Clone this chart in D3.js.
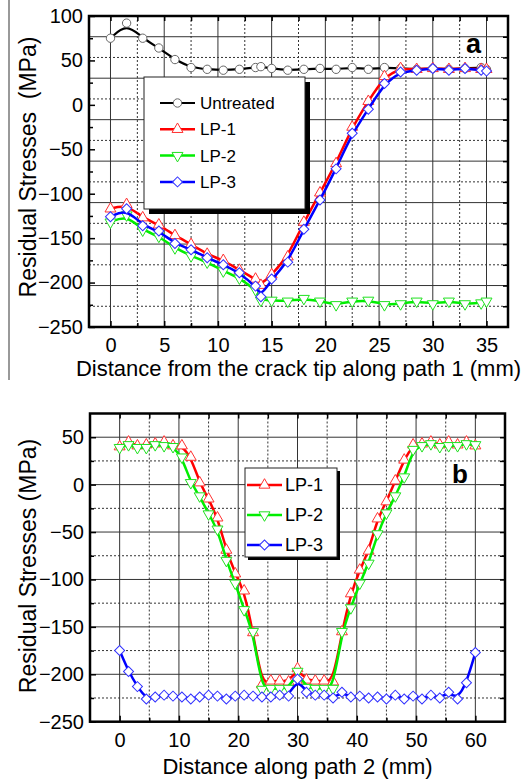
<!DOCTYPE html>
<html>
<head>
<meta charset="utf-8">
<script src="https://cdn.jsdelivr.net/npm/d3@7/dist/d3.min.js"></script>
<style>
  body { margin: 0; background: #fff; }
  svg text { font-family: "Liberation Sans", Arial, sans-serif; fill: #000; }
</style>
</head>
<body>
<svg id="chart" width="532" height="784"></svg>
<script>
// ---- Panel a: path 1 ----
const xA = [0, 1.5, 3, 4.5, 6, 7.5, 9, 10.5, 12, 13.5, 14, 15, 16.5, 18, 19.5, 21, 22.5, 24, 25.5, 27, 28.5, 30, 31.5, 33, 34.5, 35];
const untreatedA = [75, 92, 75, 64, 51, 42, 40, 39, 40, 42, 43, 41, 39, 40, 41, 40, 42, 40, 42, 41, 40, 41, 40, 41, 42, 40];
const lp1A = [-117, -112, -127, -135, -147, -157, -168, -175, -186, -196, -203, -191, -171, -132, -99, -66, -25, 4, 32, 41, 40, 41, 40, 41, 40, 40];
const lp2A = [-132, -124, -141, -148, -161, -170, -177, -187, -195, -208, -220, -220, -221, -218, -221, -225, -221, -220, -225, -224, -221, -224, -221, -224, -223, -221];
const lp3A = [-126, -117, -136, -142, -156, -163, -172, -180, -189, -204, -216, -196, -177, -140, -107, -72, -32, -5, 24, 37, 39, 41, 39, 41, 39, 38];
const xTicksA = [0, 5, 10, 15, 20, 25, 30, 35];
const xMinorA = [2.5, 7.5, 12.5, 17.5, 22.5, 27.5, 32.5];
const yTicksA = [100, 50, 0, -50, -100, -150, -200, -250];
const yMinorA = [75, 25, -25, -75, -125, -175, -225];
// the grid of panel a runs on its own 25-step scale (-250..125)
const yGridA = [-225, -200, -175, -150, -125, -100, -75, -50, -25, 0, 25, 50, 75, 100];

// ---- Panel b: path 2 ----
const xB = [0, 1.5, 3, 4.5, 6, 7.5, 9, 10.5, 12, 13.5, 15, 16.5, 18, 19.5, 21, 22.5, 24, 25.5, 27, 28.5, 30, 31.5, 33, 34.5, 36, 37.5, 39, 40.5, 42, 43.5, 45, 46.5, 48, 49.5, 51, 52.5, 54, 55.5, 57, 58.5, 60];
const lp1B = [40, 45, 41, 42, 43, 45, 41, 41, 29, 2, -15, -35, -69, -94, -112, -156, -211, -207, -207, -208, -194, -206, -207, -207, -208, -155, -115, -90, -70, -36, -18, 4, 26, 42, 43, 45, 42, 45, 42, 45, 41];
const lp2B = [39, 42, 39, 39, 42, 41, 40, 29, 2, -12, -31, -47, -80, -104, -132, -155, -216, -215, -215, -215, -197, -214, -215, -215, -215, -155, -130, -104, -83, -52, -30, -12, 8, 37, 41, 43, 40, 41, 41, 43, 42];
const lp3B = [-175, -197, -213, -226, -224, -222, -223, -224, -226, -224, -222, -223, -226, -223, -222, -223, -224, -224, -222, -223, -205, -219, -222, -222, -225, -219, -224, -223, -225, -224, -226, -222, -226, -223, -226, -222, -225, -219, -226, -209, -177];
const xTicksB = [0, 10, 20, 30, 40, 50, 60];
const xMinorB = [5, 15, 25, 35, 45, 55];
const yTicksB = [50, 0, -50, -100, -150, -200, -250];
const yMinorB = [25, -25, -75, -125, -175, -225];
const yGridB = [-225, -200, -175, -150, -125, -100, -75, -50, -25, 0, 25, 50];

const svg = d3.select("#chart");

const styles = {
  untreated: {name: "Untreated", color: "#000", mark: "#666", shape: "circle", width: 2.2},
  lp1: {name: "LP-1", color: "#ff0000", mark: "#ff3030", shape: "up", width: 2.5},
  lp2: {name: "LP-2", color: "#00ee00", mark: "#20e020", shape: "down", width: 2.5},
  lp3: {name: "LP-3", color: "#0000ff", mark: "#3030ff", shape: "diamond", width: 2.5}
};

function markerPath(shape) {
  if (shape === "circle") return d3.symbol(d3.symbolCircle, 55)();
  if (shape === "diamond") return d3.symbol(d3.symbolSquare, 50)();
  return d3.symbol(d3.symbolTriangle, 52)();
}
function markerRot(shape) {
  if (shape === "down") return 180;
  if (shape === "diamond") return 45;
  return 0;
}

function drawPanel(p) {
  const g = svg.append("g");
  const x = d3.scaleLinear().domain(p.xDomain).range([p.left, p.right]);
  const y = d3.scaleLinear().domain(p.yDomain).range([p.bottom, p.top]);
  const yg = d3.scaleLinear().domain(p.gridDomain).range([p.bottom, p.top]);

  // Grid lines
  g.selectAll(".vgrid")
    .data(p.xGrid)
    .enter()
    .append("line")
    .attr("x1", d => x(d)).attr("x2", d => x(d))
    .attr("y1", p.top).attr("y2", p.bottom)
    .attr("stroke", "#333")
    .attr("stroke-width", 1)
    .attr("stroke-dasharray", d => d % p.xMajor === 0 ? null : "2,2");
  g.selectAll(".hgrid")
    .data(p.yGrid)
    .enter()
    .append("line")
    .attr("x1", p.left).attr("x2", p.right)
    .attr("y1", d => yg(d)).attr("y2", d => yg(d))
    .attr("stroke", "#333")
    .attr("stroke-width", 1)
    .attr("stroke-dasharray", d => d % 50 === 0 ? null : "2,2");

  // Axes, ticks pointing inward
  const axes = [
    [d3.axisBottom(x).tickValues(p.xTicks).tickSize(-6).tickPadding(11), `translate(0,${p.bottom})`, true],
    [d3.axisBottom(x).tickValues(p.xMinor).tickSize(-4).tickFormat(""), `translate(0,${p.bottom})`, false],
    [d3.axisLeft(y).tickValues(p.yTicks).tickSize(-6).tickPadding(6), `translate(${p.left},0)`, true],
    [d3.axisLeft(y).tickValues(p.yMinor).tickSize(-4).tickFormat(""), `translate(${p.left},0)`, false],
    [d3.axisTop(x).tickValues(p.xGrid).tickSize(-5).tickFormat(""), `translate(0,${p.top})`, false],
    [d3.axisRight(yg).tickValues(p.yGrid).tickSize(-5).tickFormat(""), `translate(${p.right},0)`, false]
  ];
  axes.forEach(([ax, tr, labels]) => {
    const a = g.append("g").attr("transform", tr).call(ax);
    a.select(".domain").remove();
    a.selectAll(".tick line").attr("stroke", "#000").attr("stroke-width", 1.5);
    if (labels) a.selectAll("text").style("font-size", "20px").attr("fill", "#000");
  });

  // Series
  const line = d3.line()
    .x(d => x(d[0]))
    .y(d => y(d[1]))
    .curve(d3.curveBasis);
  p.series.forEach(s => {
    const st = styles[s.key];
    const pts = p.xs.map((v, i) => [v, s.values[i]]);
    g.append("path")
      .datum(pts)
      .attr("d", line)
      .attr("fill", "none")
      .attr("stroke", st.color)
      .attr("stroke-width", st.width);
    g.selectAll(".m-" + s.key)
      .data(pts)
      .enter()
      .append("path")
      .attr("d", markerPath(st.shape))
      .attr("transform", d => `translate(${x(d[0])},${y(d[1])}) rotate(${markerRot(st.shape)})`)
      .attr("fill", "#fff")
      .attr("stroke", st.mark)
      .attr("stroke-width", 1);
  });

  // Frame
  g.append("rect")
    .attr("x", p.left).attr("y", p.top)
    .attr("width", p.right - p.left).attr("height", p.bottom - p.top)
    .attr("fill", "none")
    .attr("stroke", "#000")
    .attr("stroke-width", 2.5);

  // Legend with drop shadow
  const L = p.legend;
  g.append("rect")
    .attr("x", L.x + L.shadow).attr("y", L.y + L.shadow)
    .attr("width", L.w).attr("height", L.h)
    .attr("fill", "#000");
  g.append("rect")
    .attr("x", L.x).attr("y", L.y)
    .attr("width", L.w).attr("height", L.h)
    .attr("fill", "#fff")
    .attr("stroke", "#222")
    .attr("stroke-width", 1);
  L.keys.forEach((k, i) => {
    const st = styles[k];
    const cy = L.y + L.first + i * L.step;
    g.append("line")
      .attr("x1", L.x + L.lx1).attr("x2", L.x + L.lx2)
      .attr("y1", cy).attr("y2", cy)
      .attr("stroke", st.color)
      .attr("stroke-width", st.width);
    g.append("path")
      .attr("d", markerPath(st.shape))
      .attr("transform", `translate(${L.x + (L.lx1 + L.lx2) / 2},${cy}) rotate(${markerRot(st.shape)})`)
      .attr("fill", "#fff")
      .attr("stroke", st.mark)
      .attr("stroke-width", 1);
    g.append("text")
      .attr("x", L.x + L.tx)
      .attr("y", cy)
      .attr("dy", "0.36em")
      .style("font-size", L.font + "px")
      .text(st.name);
  });

  // Panel letter
  g.append("text")
    .attr("x", p.letter.x).attr("y", p.letter.y)
    .style("font-size", p.letter.size + "px")
    .style("font-weight", "bold")
    .text(p.letter.t);

  // Axis titles
  g.append("text")
    .attr("x", (p.left + p.right) / 2)
    .attr("y", p.xTitleY)
    .attr("text-anchor", "middle")
    .style("font-size", "22px")
    .text(p.xTitle);
  g.append("text")
    .attr("transform", `translate(${p.yTitleX},${p.yTitleY}) rotate(-90)`)
    .attr("text-anchor", "middle")
    .style("font-size", "23px")
    .style("white-space", "pre")
    .text(p.yTitle);
}

drawPanel({
  left: 89, right: 508, top: 16, bottom: 327,
  xDomain: [-2, 37], yDomain: [-250, 100], gridDomain: [-250, 125],
  xTicks: xTicksA, xMinor: xMinorA, yTicks: yTicksA, yMinor: yMinorA,
  xGrid: xTicksA.concat(xMinorA), xMajor: 5, yGrid: yGridA,
  xs: xA,
  series: [
    {key: "untreated", values: untreatedA},
    {key: "lp2", values: lp2A},
    {key: "lp1", values: lp1A},
    {key: "lp3", values: lp3A}
  ],
  legend: {x: 144, y: 77, w: 161, h: 132, shadow: 5, first: 26, step: 26.3,
           lx1: 16, lx2: 51, tx: 56, font: 17, keys: ["untreated", "lp1", "lp2", "lp3"]},
  letter: {t: "a", x: 466, y: 53, size: 27},
  xTitle: "Distance from the crack tip along path 1 (mm)", xTitleY: 376,
  yTitle: "Residual Stresses  (MPa)", yTitleX: 36, yTitleY: 167
});

drawPanel({
  left: 90, right: 505, top: 413.5, bottom: 721.7,
  xDomain: [-5, 65], yDomain: [-250, 75], gridDomain: [-250, 75],
  xTicks: xTicksB, xMinor: xMinorB, yTicks: yTicksB, yMinor: yMinorB,
  xGrid: xTicksB.concat(xMinorB), xMajor: 10, yGrid: yGridB,
  xs: xB,
  series: [
    {key: "lp1", values: lp1B},
    {key: "lp2", values: lp2B},
    {key: "lp3", values: lp3B}
  ],
  legend: {x: 245, y: 468, w: 92, h: 89, shadow: 3, first: 17, step: 30,
           lx1: 2, lx2: 37, tx: 40, font: 18, keys: ["lp1", "lp2", "lp3"]},
  letter: {t: "b", x: 452, y: 483, size: 26},
  xTitle: "Distance along path 2 (mm)", xTitleY: 774,
  yTitle: "Residual Stresses (MPa)", yTitleX: 36, yTitleY: 566
});

// thin rule at the left edge of the upper panel
svg.append("line")
  .attr("x1", 9).attr("x2", 9)
  .attr("y1", 0).attr("y2", 380)
  .attr("stroke", "#555")
  .attr("stroke-width", 1.2);
</script>
</body>
</html>
